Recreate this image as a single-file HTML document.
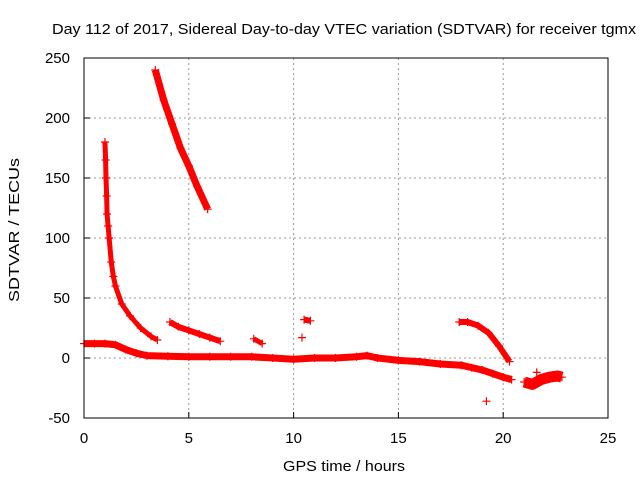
<!DOCTYPE html>
<html><head><meta charset="utf-8"><style>
body{margin:0;background:#fff}
svg{display:block;font-family:"Liberation Sans",sans-serif}
</style></head><body>
<svg id="c" width="640" height="480">
<text x="344" y="34" text-anchor="middle" font-size="15" textLength="584" lengthAdjust="spacingAndGlyphs">Day 112 of 2017, Sidereal Day-to-day VTEC variation (SDTVAR) for receiver tgmx</text>
<text x="344" y="471" text-anchor="middle" font-size="15" textLength="122" lengthAdjust="spacingAndGlyphs">GPS time / hours</text>
<text transform="translate(19,230) rotate(-90)" text-anchor="middle" font-size="15" textLength="144" lengthAdjust="spacingAndGlyphs">SDTVAR / TECUs</text>
<g id="grid"></g><g id="marks"></g>
<rect x="84" y="58" width="524" height="360" fill="none" stroke="#000"/>
</svg>
<script>
const xTicks=[0,5,10,15,20,25];
const yTicks=[-50,0,50,100,150,200,250];
const segBase=[[0,12],[0.5,12],[1,12],[1.5,11],[2,7],[2.5,4],[3,2],[4,1.5],[5,1],[6,1],[7,1],[8,1],[9,0],[10,-1],[11,0],[12,0],[13,1],[13.5,2],[14,0],[15,-2],[16,-3],[17,-5],[18,-6],[18.5,-8],[19,-10],[19.5,-13],[20,-16],[20.4,-18]];
const segSteep=[[1,180],[1.03,165],[1.05,150],[1.08,135],[1.1,120],[1.15,110],[1.2,100],[1.3,80],[1.4,68],[1.5,60],[1.8,45],[2.2,35],[2.7,25],[3.2,18],[3.5,15]];
const segHigh=[[3.4,240],[3.8,215],[4.2,195],[4.6,175],[5,160],[5.4,143],[5.9,124]];
const segMid=[[4.1,30],[4.5,26],[5,23],[5.5,20],[6,17],[6.5,14]];
const segE=[[8.1,16],[8.5,12]];
const segF=[[10.5,32],[10.8,31]];
const segG=[[17.9,30],[18.3,30],[18.8,27],[19.3,21],[19.8,10],[20.3,-3]];
const segH=[[21,-20],[21.4,-22],[21.8,-18],[22.2,-16],[22.6,-15],[22.8,-16]];
const isolated=[[10.4,17],[19.2,-36],[21.6,-12]];
const X=h=>84+h*524/25, Y=v=>358-v*1.2;
const NS="http://www.w3.org/2000/svg";
const grid=document.getElementById('grid'), marks=document.getElementById('marks');
function mk(t,a,p){const e=document.createElementNS(NS,t);for(const k in a)e.setAttribute(k,a[k]);p.appendChild(e);return e;}
xTicks.forEach(t=>{const x=X(t);
 if(t>0&&t<25){const l=mk('line',{x1:x,x2:x,y1:58,y2:418,stroke:'#999','stroke-dasharray':'2,3'},grid);}
 const tk=mk('line',{x1:x,x2:x,y1:418,y2:412,stroke:'#000'},grid);
 const tx=mk('text',{x:x,y:443,'text-anchor':'middle','font-size':15},grid);tx.textContent=t;});
yTicks.forEach(t=>{const y=Y(t);
 if(t>-50&&t<250){const l=mk('line',{x1:84,x2:608,y1:y,y2:y,stroke:'#999','stroke-dasharray':'2,3'},grid);}
 const tk=mk('line',{x1:84,x2:90,y1:y,y2:y,stroke:'#000'},grid);
 const tx=mk('text',{x:70,y:y+5,'text-anchor':'end','font-size':15},grid);tx.textContent=t;});
function series(d,name,w){
 const pl=mk('polyline',{points:d.map(p=>X(p[0])+','+Y(p[1])).join(' '),fill:'none',stroke:'#f00','stroke-width':w,'stroke-linejoin':'round'},marks);
 
 
 d.forEach(p=>{const pt=mk('path',{d:`M${X(p[0])-4},${Y(p[1])}h8M${X(p[0])},${Y(p[1])-4}v8`,stroke:'#f00','stroke-width':1.2},marks);
 
 });
}
series(segBase,'baseline-series',7);
series(segSteep,'steep-decay-series',5);
series(segHigh,'high-arc-series',7);
series(segMid,'mid-arc-series',6);
series(segE,'short-arc-e',5);
series(segF,'short-arc-f',6);
series(segG,'late-arc-series',6);
series(segH,'end-cluster-series',11);
series(isolated,'isolated-points',0);
</script>
</body></html>
